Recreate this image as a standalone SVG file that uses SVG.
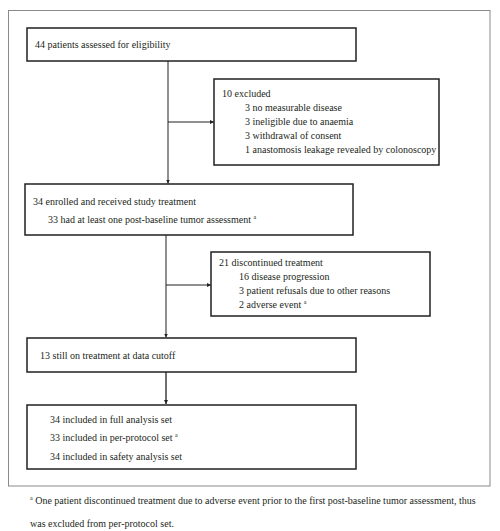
<svg xmlns="http://www.w3.org/2000/svg" width="500" height="531" viewBox="0 0 500 531">
<defs>
<marker id="ah" viewBox="0 0 8 8" refX="8" refY="4" markerWidth="4" markerHeight="4" markerUnits="userSpaceOnUse" orient="auto">
<path d="M0,0 L8,4 L0,8 Z" fill="#231f20"/>
</marker>
</defs>
<style>
text{font-family:"Liberation Serif","Times New Roman",serif;font-size:10px;fill:#231f20}
.box{fill:#fff;stroke:#231f20;stroke-width:1.5}
.line{stroke:#231f20;stroke-width:1;fill:none}
.sup{font-size:6px}
</style>
<rect x="0" y="0" width="500" height="531" fill="#fff"/>
<rect x="8.5" y="10.5" width="481.5" height="475.5" fill="none" stroke="#8a8a8a" stroke-width="1"/>
<g id="connectors">
<line class="line" x1="168" y1="61" x2="168" y2="183.5" marker-end="url(#ah)"/>
<line class="line" x1="168" y1="122" x2="214" y2="122" marker-end="url(#ah)"/>
<line class="line" x1="166" y1="235" x2="166" y2="337.5" marker-end="url(#ah)"/>
<line class="line" x1="166" y1="285" x2="211" y2="285" marker-end="url(#ah)"/>
<line class="line" x1="166" y1="372" x2="166" y2="404" marker-end="url(#ah)" style="stroke-width:1.3"/>
</g>
<g id="n1">
<rect class="box" x="27" y="28" width="329" height="33"/>
<text x="35" y="48">44 patients assessed for eligibility</text>
</g>
<g id="n2">
<rect class="box" x="214" y="79" width="225" height="86"/>
<text x="222" y="97">10 excluded</text>
<text x="245" y="111">3 no measurable disease</text>
<text x="245" y="125">3 ineligible due to anaemia</text>
<text x="245" y="139">3 withdrawal of consent</text>
<text x="245" y="153">1 anastomosis leakage revealed by colonoscopy</text>
</g>
<g id="n3">
<rect class="box" x="25" y="184" width="328" height="51"/>
<text x="33" y="205">34 enrolled and received study treatment</text>
<text x="48" y="223">33 had at least one post-baseline tumor assessment <tspan class="sup" dy="-4">a</tspan></text>
</g>
<g id="n4">
<rect class="box" x="211" y="252" width="219" height="64"/>
<text x="219" y="266">21 discontinued treatment</text>
<text x="239" y="280">16 disease progression</text>
<text x="239" y="294">3 patient refusals due to other reasons</text>
<text x="239" y="308">2 adverse event <tspan class="sup" dy="-4">a</tspan></text>
</g>
<g id="n5">
<rect class="box" x="27" y="338" width="329" height="34"/>
<text x="40" y="359">13 still on treatment at data cutoff</text>
</g>
<g id="n6">
<rect class="box" x="27" y="405" width="329" height="64"/>
<text x="50" y="423">34 included in full analysis set</text>
<text x="50" y="441">33 included in per-protocol set <tspan class="sup" dy="-4">a</tspan></text>
<text x="50" y="460">34 included in safety analysis set</text>
</g>
<g id="footnote">
<text x="30" y="504"><tspan class="sup" dy="-4">a</tspan><tspan dy="4"> One patient discontinued treatment due to adverse event prior to the first post-baseline tumor assessment, thus</tspan></text>
<text x="30" y="527">was excluded from per-protocol set.</text>
</g>
</svg>
